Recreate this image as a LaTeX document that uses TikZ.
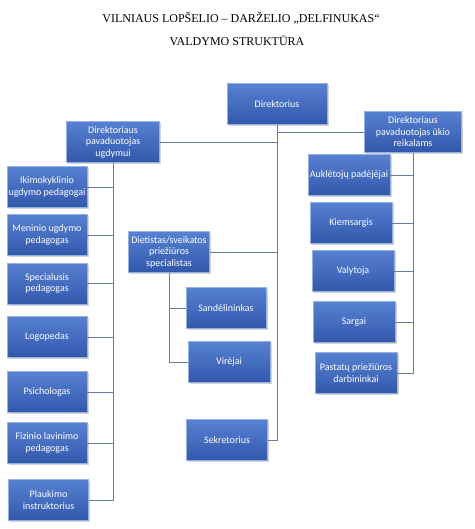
\documentclass[tikz,border=0pt]{standalone}
\usepackage{fontspec}
\setmainfont{Liberation Serif}
\newfontfamily\boxfont{Carlito}
\usetikzlibrary{shadows}

\definecolor{boxtop}{RGB}{86,128,210}
\definecolor{boxbottom}{RGB}{50,88,172}
\definecolor{boxrim}{RGB}{150,178,228}
\definecolor{linkline}{RGB}{104,122,168}

\tikzset{
  unit/.style={draw=boxrim, line width=0.5pt, top color=boxtop, bottom color=boxbottom,
    text=white, font=\boxfont\fontsize{10}{11.5}\selectfont, align=center,
    minimum width=81pt, minimum height=41pt, inner xsep=1pt,
    drop shadow={shadow xshift=1.5pt, shadow yshift=-1.5pt, opacity=0.35}},
  link/.style={draw=linkline, line width=0.9pt}
}

\begin{document}
\begin{tikzpicture}[x=1pt,y=-1pt]
\useasboundingbox (0,0) rectangle (474,529);
\node[anchor=base, font=\fontsize{12}{14}\selectfont] (title1) at (241,23) {VILNIAUS LOPŠELIO – DARŽELIO „DELFINUKAS“};
\node[anchor=base, font=\fontsize{12}{14}\selectfont] (title2) at (237,46) {VALDYMO STRUKTŪRA};

% top level
\node[unit, minimum width=100pt] (dir) at (277,104) {Direktorius};
\node[unit, minimum width=93pt] (ugd) at (113,142) {Direktoriaus\\pavaduotojas\\ugdymui};
\node[unit, minimum width=97pt] (ukio) at (413,132) {Direktoriaus\\pavaduotojas ūkio\\reikalams};

% left column
\node[unit, minimum width=80pt] (iki) at (47,187) {Ikimokyklinio\\ugdymo pedagogai};
\node[unit, minimum width=80pt] (men) at (47,235) {Meninio ugdymo\\pedagogas};
\node[unit, minimum width=80pt] (spec) at (47,283.5) {Specialusis\\pedagogas};
\node[unit, minimum width=80pt] (logo) at (47,337) {Logopedas};
\node[unit, minimum width=80pt] (psich) at (47,392) {Psichologas};
\node[unit, minimum width=80pt] (fiz) at (47,443) {Fizinio lavinimo\\pedagogas};
\node[unit, minimum width=80pt] (plauk) at (48.5,500) {Plaukimo\\instruktorius};

% middle column
\node[unit] (diet) at (169,252) {Dietistas/sveikatos\\priežiūros\\specialistas};
\node[unit, minimum width=80pt] (sand) at (226,308) {Sandėlininkas};
\node[unit, minimum width=82pt] (vir) at (229,362) {Virėjai};
\node[unit] (sekr) at (227,440) {Sekretorius};

% right column
\node[unit, minimum width=82pt] (aukl) at (349,175) {Auklėtojų padėjėjai};
\node[unit, minimum width=82pt] (kiem) at (351,223) {Kiemsargis};
\node[unit, minimum width=82pt] (valy) at (353,271) {Valytoja};
\node[unit, minimum width=82pt] (sarg) at (354,322) {Sargai};
\node[unit, minimum width=82pt] (past) at (356,373) {Pastatų priežiūros\\darbininkai};

% connectors
\draw[link] (dir.south) |- (sekr.east);
\draw[link] (dir.south) |- (ugd.east);
\draw[link] (ukio.west) -| (dir.south);
\draw[link] (diet.east) -| (dir.south);

\draw[link] (ugd.south) |- (plauk.east);
\foreach \n in {iki,men,spec,logo,psich,fiz}
  \draw[link] (\n.east) -| (ugd.south);

\draw[link] (diet.south) |- (vir.west);
\draw[link] (sand.west) -| (diet.south);

\draw[link] (ukio.south) |- (past.east);
\foreach \n in {aukl,kiem,valy,sarg}
  \draw[link] (\n.east) -| (ukio.south);
\end{tikzpicture}
\end{document}
